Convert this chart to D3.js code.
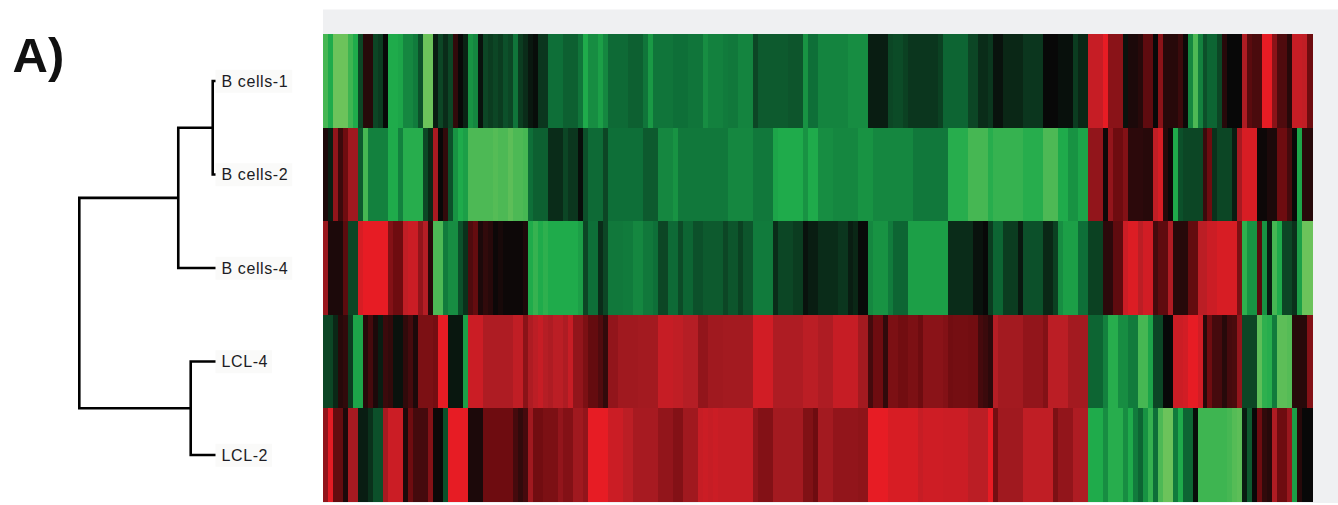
<!DOCTYPE html>
<html>
<head>
<meta charset="utf-8">
<script src="https://cdn.jsdelivr.net/npm/d3@7"></script>
<style>
  html, body { margin: 0; padding: 0; background: #ffffff; }
  svg { display: block; }
</style>
</head>
<body>
<svg id="chart" width="1338" height="505"></svg>
<script>
// Samples (heatmap rows, top to bottom)
const samples = ["B cells-1", "B cells-2", "B cells-4", "LCL-4", "LCL-2"];

// Relative expression per gene (log ratio), one array per sample, 198 genes
const bCells1 = [
  -2.5, -2.0, -3, -3, -3, -2.4, -2.0, -0.6, 0.3, 0.3,
  -0.6, -0.5, 0.0, -2.0, -2.0, -1.9, -1.4, -1.4, -1.2, -0.7,
  -3, -3, -0.2, -0.6, -0.35, -0.6, 0.4, 0.0, -0.25, -1.6,
  -1.4, -0.1, -0.6, -0.5, -0.6, -0.5, -0.7, -0.6, -1.1, -0.5,
  -0.35, -0.15, -0.05, -0.45, -0.45, -1.0, -1.0, -1.0, -0.85, -0.85,
  -0.85, -1.1, -2.0, -1.5, -1.5, -1.8, -1.4, -0.95, -0.95, -0.95,
  -0.95, -0.85, -0.85, -0.85, -1.1, -1.7, -1.1, -1.1, -1.1, -1.1,
  -1.0, -1.0, -1.0, -1.1, -1.1, -1.1, -1.5, -1.3, -1.3, -1.3,
  -1.2, -1.15, -1.15, -1.35, -1.35, -1.35, -0.6, -0.8, -0.8, -0.8,
  -0.8, -0.8, -0.8, -0.75, -0.75, -0.75, -1.6, -1.0, -1.0, -1.35,
  -1.35, -1.35, -1.35, -1.35, -1.35, -1.5, -1.5, -1.5, -1.5, -0.2,
  -0.2, -0.2, -0.2, -0.6, -0.65, -0.65, -0.55, -0.45, -0.45, -0.45,
  -0.45, -0.45, -0.45, -0.55, -0.9, -0.9, -0.9, -0.9, -0.9, -0.6,
  -0.6, -0.35, -0.35, -0.45, -0.1, -0.1, -0.3, -0.3, -0.3, -0.3,
  -0.45, -0.45, -0.45, -0.45, 0.0, 0.0, 0.0, -0.08, -0.08, -0.08,
  -0.5, -0.3, -0.3, 2.3, 2.3, 2.3, 2.9, 1.4, 1.4, 1.4,
  -0.1, 0.2, 0.2, 0.3, 0.85, 0.85, 0.0, 1.4, 0.3, 0.3,
  0.3, 0.5, 0.05, -1.4, -2.6, -1.3, -0.7, -0.9, -0.9, -0.6,
  0.3, 0.0, 0.0, 0.0, 1.9, 0.8, 0.65, 0.65, 2.9, 2.9,
  1.4, 0.7, 0.7, 0.3, 2.3, 2.3, 2.2, 1.0
];

const bCells2 = [
  0.2, -0.2, 1.5, 0.5, 1.0, 1.7, 1.7, -0.8, -2.5, -1.3,
  -1.3, -1.3, -1.3, -2.0, -2.0, -1.3, -2.1, -2.1, -2.1, -2.1,
  -0.6, -0.3, 1.8, 0.0, 0.4, -0.7, -1.6, -2.0, -1.8, -2.6,
  -2.6, -2.6, -2.6, -2.6, -2.7, -2.6, -2.6, -2.8, -2.6, -2.6,
  -2.5, -1.0, -0.85, -0.85, -0.85, -0.35, -0.35, -0.35, -0.6, -0.45,
  -0.45, -0.05, -0.7, -0.95, -0.95, -0.95, -0.6, -1.0, -1.0, -1.0,
  -1.0, -1.0, -1.0, -1.0, -0.8, -0.8, -0.8, -1.4, -1.4, -1.4,
  -1.6, -1.15, -1.15, -1.15, -1.15, -1.15, -1.15, -1.15, -1.15, -1.15,
  -1.15, -1.4, -1.4, -1.4, -1.4, -1.4, -1.15, -1.15, -1.15, -1.15,
  -1.9, -2.0, -2.0, -2.0, -2.0, -2.0, -1.6, -2.0, -2.0, -1.5,
  -1.5, -1.5, -1.4, -1.4, -1.4, -1.4, -1.4, -1.6, -1.6, -1.6,
  -1.4, -1.4, -1.4, -1.4, -1.4, -1.4, -1.4, -1.4, -1.15, -1.15,
  -1.15, -1.15, -1.15, -1.15, -1.15, -2.1, -2.1, -2.1, -2.1, -2.5,
  -2.5, -2.5, -2.5, -2.1, -2.3, -2.3, -2.3, -2.3, -2.3, -2.3,
  -2.1, -2.1, -2.1, -2.1, -2.6, -2.6, -2.6, -2.0, -2.0, -1.6,
  -1.6, -1.9, -1.9, 1.5, 1.5, 1.5, 0.05, 1.5, 1.0, 1.0,
  1.3, 0.35, 0.35, 0.35, 0.3, 0.3, 2.2, 2.6, 0.3, 0.05,
  -2.0, -0.7, -0.6, -0.6, -0.6, -0.6, 0.5, 1.0, -0.4, -0.6,
  -0.6, -0.6, -0.2, 1.8, 2.6, 2.6, 2.6, 0.05, 0.05, 0.2,
  0.2, 1.0, 1.0, 0.6, 0.0, -1.9, 0.3, 0.3
];

const bCells4 = [
  1.6, 0.2, 0.2, 0.2, 0.8, -0.6, -0.6, 2.6, 2.9, 2.9,
  2.9, 2.9, 2.9, 1.3, 1.0, 1.0, 2.2, 2.4, 2.4, 1.5,
  2.0, 0.3, -2.6, -2.6, -1.2, -1.5, -1.5, -0.7, -0.4, 0.7,
  0.9, 0.2, 0.4, 0.3, 0.05, 0.15, 0.05, 0.05, 0.05, 0.05,
  0.2, -2.0, -2.3, -2.0, -2.2, -2.0, -2.0, -2.0, -2.0, -2.0,
  -2.0, -1.8, -0.6, -1.0, -1.0, -0.35, -0.6, -1.15, -1.15, -1.15,
  -1.2, -1.2, -1.4, -1.4, -1.15, -1.15, -1.0, -0.6, -0.6, -0.95,
  -0.95, -0.65, -0.9, -0.9, -0.7, -0.7, -0.8, -0.8, -0.8, -0.8,
  -0.6, -0.75, -0.75, -0.55, -0.75, -0.75, -1.2, -1.2, -1.2, -1.2,
  -0.35, -0.6, -0.6, -0.6, -0.5, -0.5, -0.1, -0.2, -0.2, -0.35,
  -0.35, -0.35, -0.35, -0.45, -0.45, -0.2, -0.3, -0.02, -0.02, -1.4,
  -1.6, -1.6, -1.6, -1.2, -0.9, -0.9, -0.9, -1.8, -1.8, -1.8,
  -1.8, -1.8, -1.8, -1.8, -1.8, -0.35, -0.35, -0.35, -0.35, -0.35,
  -0.1, -0.1, 0.0, -0.5, -0.9, -0.9, -0.5, -0.5, -0.5, -0.15,
  -0.7, -0.7, -0.7, -0.7, -0.3, -0.3, -0.55, -1.5, -1.8, -1.8,
  -1.8, -1.0, -1.0, -0.55, -0.55, -0.55, 0.35, 0.35, 0.85, 0.85,
  2.4, 2.7, 2.7, 2.1, 2.5, 2.5, 0.6, 0.85, 0.85, 1.9,
  0.3, 0.3, 0.3, 0.9, 0.9, 2.1, 2.1, 2.4, 2.4, 2.6,
  2.6, 2.6, 2.6, 1.2, -2.2, -1.6, -1.6, 0.8, -1.6, -0.2,
  -2.5, -2.0, -0.6, -0.6, -0.4, -1.8, -3.0, -3.0
];

const lcl4 = [
  -0.6, -0.6, -0.3, 0.3, 0.4, -0.5, -1.9, -1.9, 0.3, 0.6,
  0.2, -0.2, 0.5, 0.4, -0.1, -0.1, 0.4, 0.6, 0.2, 1.2,
  1.2, 1.2, 1.1, 2.9, 2.9, -0.15, -0.15, -0.15, -1.8, 2.4,
  2.4, 2.4, 1.9, 1.9, 1.9, 1.9, 1.9, 1.9, 2.2, 2.2,
  1.4, 1.9, 2.1, 2.3, 2.0, 1.9, 2.1, 2.1, 1.9, 2.3,
  1.5, 1.5, 1.2, 0.9, 0.9, 0.7, 0.4, 1.5, 1.5, 1.7,
  1.7, 1.7, 1.7, 1.75, 1.75, 1.75, 1.75, 2.3, 2.3, 2.3,
  2.2, 2.2, 2.0, 2.0, 2.0, 1.5, 1.5, 1.7, 1.7, 1.7,
  1.75, 1.75, 1.75, 1.75, 1.75, 1.75, 2.5, 2.5, 2.5, 2.5,
  1.9, 1.9, 1.9, 1.9, 1.9, 1.9, 2.1, 2.1, 2.1, 1.9,
  1.9, 1.9, 2.3, 2.3, 2.3, 2.3, 2.3, 1.75, 1.75, 0.6,
  1.0, 1.0, 0.4, 1.2, 1.2, 1.05, 1.05, 1.2, 1.2, 1.0,
  1.4, 1.4, 1.4, 1.4, 1.3, 1.05, 1.1, 1.1, 1.1, 1.05,
  1.05, 0.6, 0.5, 0.35, 2.0, 1.75, 1.75, 1.75, 1.75, 1.75,
  1.5, 1.5, 1.5, 1.5, 1.3, 2.1, 2.1, 2.1, 2.1, 1.75,
  1.75, 1.75, 1.75, -0.9, -0.9, -0.9, -1.3, -2.1, -2.1, -1.5,
  -1.5, -1.2, -1.2, -2.5, -2.5, -1.9, -0.6, -0.6, 0.0, 0.0,
  2.4, 2.4, 2.5, 2.9, 2.9, 2.5, 0.3, 1.0, 0.6, 0.6,
  0.3, 0.6, 0.65, 1.5, -0.6, -0.6, -0.6, -2.8, -2.2, -2.1,
  -1.2, -2.8, -2.8, -2.7, 0.3, 0.3, 0.3, 1.3
];

const lcl2 = [
  1.5, 2.8, 0.9, 0.9, 0.2, 1.8, 1.8, -0.2, -0.2, -0.4,
  -0.7, -0.7, 1.8, 2.4, 2.4, 2.4, 0.2, 1.0, 0.6, 0.6,
  0.6, 1.3, 0.05, 0.05, -0.7, 2.9, 2.9, 2.9, 2.9, 0.2,
  0.2, 0.2, 1.0, 1.0, 1.0, 1.0, 1.0, 1.0, 0.6, 0.4,
  0.6, 1.7, 1.05, 1.05, 1.2, 1.2, 1.2, 1.5, 1.3, 1.3,
  1.7, 1.7, 1.5, 2.9, 2.9, 2.9, 2.9, 2.4, 2.4, 2.4,
  2.1, 2.1, 1.8, 1.8, 1.8, 1.8, 1.8, 1.5, 1.5, 1.5,
  1.3, 1.3, 1.7, 1.7, 1.7, 2.3, 2.4, 2.3, 2.4, 2.3,
  2.3, 2.3, 2.3, 2.3, 2.3, 2.3, 1.5, 1.3, 1.3, 1.3,
  1.75, 1.75, 1.75, 1.75, 1.75, 1.75, 1.25, 1.25, 1.0, 1.75,
  1.75, 1.75, 1.5, 1.5, 1.5, 1.5, 1.5, 1.45, 1.45, 2.9,
  2.9, 2.9, 2.9, 2.6, 2.6, 2.6, 2.6, 2.6, 2.6, 2.3,
  2.45, 2.45, 2.45, 2.45, 2.4, 2.4, 2.4, 2.4, 2.4, 2.1,
  2.1, 2.1, 2.1, 2.9, 1.1, 1.7, 1.7, 1.7, 1.7, 1.7,
  2.2, 2.2, 2.2, 2.2, 2.2, 2.2, 1.2, 1.5, 1.5, 1.5,
  1.9, 1.9, 1.9, -2.0, -2.0, -2.0, -1.5, -2.1, -2.1, -2.1,
  -1.5, -2.0, -1.2, -0.9, -1.6, -2.3, -1.0, -2.6, -3.0, -3.0,
  -1.2, -2.0, -0.9, -0.9, -0.05, -2.4, -2.4, -2.4, -2.4, -2.4,
  -2.4, -2.5, -2.7, -2.8, -0.2, -0.8, 0.0, 1.0, 0.4, 0.3,
  1.9, 1.0, 1.0, 1.6, -1.8, 0.3, 0.0, 0.0
];

const rowValues = [bCells1, bCells2, bCells4, lcl4, lcl2];

// Green - black - red colour ramp
const colorDomain = [-3, -2, -1, 0, 1, 2, 3];
const colorRange = ["#6cc35b", "#1fab4b", "#0e6f38", "#080808", "#6e0c10", "#b51e25", "#ed1c24"];

// Hierarchical clustering of the samples (merge heights, root = 1)
const mergeHeights = { bPair: 0.024, bGroup: 0.276, lclPair: 0.185, root: 1 };
const clusterTree = {
  height: mergeHeights.root,
  children: [
    { height: mergeHeights.bGroup, children: [
      { height: mergeHeights.bPair, children: [{ name: "B cells-1" }, { name: "B cells-2" }] },
      { name: "B cells-4" }
    ]},
    { height: mergeHeights.lclPair, children: [{ name: "LCL-4" }, { name: "LCL-2" }] }
  ]
};

const svg = d3.select("#chart");

// Layout
const heat = { left: 323.3, right: 1312.4, top: 34.3, bottom: 501.7 };
const geneIndex = d3.range(bCells1.length);

const x = d3.scaleBand().domain(geneIndex).range([heat.left, heat.right]).padding(0);
const y = d3.scaleBand().domain(samples).range([heat.top, heat.bottom]).padding(0);
const color = d3.scaleLinear().domain(colorDomain).range(colorRange).clamp(true);

// Light panel behind the heatmap
svg.append("rect")
  .attr("x", 323).attr("y", 9.5)
  .attr("width", 1338 - 323).attr("height", 503 - 9.5)
  .attr("fill", "#eff0f2");

// Heatmap cells
const rowsG = svg.append("g").attr("shape-rendering", "crispEdges");
samples.forEach((s, r) => {
  rowsG.append("g")
    .selectAll("rect")
    .data(rowValues[r])
    .join("rect")
    .attr("x", (d, i) => x(i))
    .attr("y", y(s))
    .attr("width", x.bandwidth() + 0.6)
    .attr("height", y.bandwidth() + 0.5)
    .attr("fill", d => color(d));
});

// Dendrogram
const leafX = 216;
const dx = d3.scaleLinear().domain([0, mergeHeights.root]).range([leafX, 79.3]);
const root = d3.hierarchy(clusterTree);
root.eachAfter(n => {
  if (!n.children) {
    n.px = dx(0);
    n.py = y(n.data.name) + y.bandwidth() / 2;
  } else {
    n.px = dx(n.data.height);
    n.py = (n.children[0].py + n.children[n.children.length - 1].py) / 2;
  }
});

const dendro = svg.append("g")
  .attr("fill", "none")
  .attr("stroke", "#000")
  .attr("stroke-width", 2.6)
  .attr("stroke-linejoin", "miter");

root.descendants().filter(n => n.children).forEach(n => {
  const a = n.children[0], b = n.children[n.children.length - 1];
  const p = d3.path();
  p.moveTo(a.px, a.py);
  p.lineTo(n.px, a.py);
  p.lineTo(n.px, b.py);
  p.lineTo(b.px, b.py);
  dendro.append("path").attr("d", p.toString());
});

// Sample labels
const labels = svg.append("g");
root.leaves().forEach(l => {
  const g = labels.append("g");
  const t = g.append("text")
    .attr("x", 221.5)
    .attr("y", l.py)
    .attr("dy", "0.36em")
    .attr("font-family", "'Liberation Sans', Arial, sans-serif")
    .attr("font-size", 16)
    .attr("letter-spacing", 0.6)
    .attr("fill", "#1c1c24")
    .text(l.data.name);
  const bb = t.node().getBBox();
  g.insert("rect", "text")
    .attr("x", bb.x - 6).attr("y", bb.y - 3)
    .attr("width", bb.width + 10).attr("height", bb.height + 6)
    .attr("fill", "#fafaf9");
});

// Panel letter
svg.append("text")
  .attr("x", 12.5)
  .attr("y", 71.5)
  .attr("font-family", "'Liberation Sans', Arial, sans-serif")
  .attr("font-weight", "bold")
  .attr("font-size", 49)
  .attr("fill", "#111")
  .text("A)");
</script>
</body>
</html>
